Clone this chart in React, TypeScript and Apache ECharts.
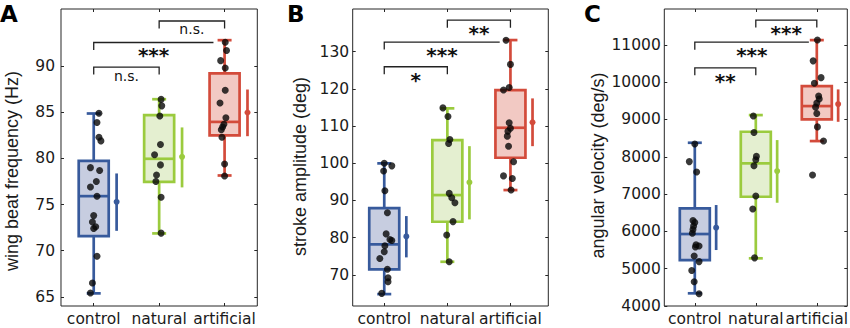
import React, { useEffect, useRef } from "react";
import * as echarts from "echarts";

const categories = ["control", "natural", "artificial"];

// ---- Panel A: wing beat frequency (Hz) ----
// box: [min, q1, median, q3, max]
const wbfBoxes = [
  [65.37, 71.58, 75.91, 79.74, 84.87],
  [71.87, 77.46, 79.96, 84.69, 86.42],
  [78.15, 82.49, 83.96, 89.21, 92.82],
];
// mean: [mean, low, high]
const wbfMeans = [
  [75.29, 72.15, 78.37],
  [80.17, 76.86, 83.36],
  [84.98, 82.41, 87.47],
];
// points: [jitter, value]
const wbfControl = [[0.08, 84.9], [0.05, 83.9], [0.08, 82.3], [0.11, 81.9], [-0.05, 79.0], [0.09, 78.7], [0.04, 77.5], [-0.05, 76.9], [0.05, 75.9], [0.0, 73.8], [-0.02, 73.1], [0.03, 72.6], [0.0, 72.4], [0.05, 69.4], [-0.02, 66.5], [-0.05, 65.4]];
const wbfNatural = [[0.03, 86.4], [0.04, 85.7], [0.01, 84.6], [0.02, 81.5], [-0.07, 80.4], [0.02, 79.3], [-0.04, 78.2], [-0.05, 77.5], [0.03, 75.8], [0.03, 71.9]];
const wbfArtificial = [[0.01, 92.6], [0.03, 91.7], [-0.06, 90.6], [0.01, 89.8], [0.01, 87.4], [-0.07, 86.0], [0.02, 84.4], [-0.01, 83.7], [-0.03, 83.4], [-0.05, 83.1], [-0.04, 82.3], [0.0, 79.4], [0.0, 78.1]];
// brackets: [from, to, level, label]
const wbfBrackets: [number, number, number, string][] = [[1, 2, 89.9, "n.s."], [1, 2.83, 92.57, "***"], [2, 3, 94.9, "n.s."]];
const wbfTicks = [65, 70, 75, 80, 85, 90];

// ---- Panel B: stroke amplitude (deg) ----
const saBoxes = [
  [64.8, 71.45, 78.18, 87.94, 99.97],
  [73.5, 84.26, 91.44, 106.24, 114.77],
  [92.79, 101.48, 109.55, 119.7, 133.14],
];
const saMeans = [
  [80.33, 74.68, 85.79],
  [94.86, 84.9, 104.6],
  [111.0, 104.6, 117.45],
];
const saControl = [[0.0, 100.0], [0.12, 99.3], [-0.01, 97.9], [0.01, 92.6], [0.05, 86.7], [0.03, 81.0], [0.09, 79.5], [0.12, 79.2], [0.01, 77.8], [0.0, 76.2], [-0.07, 74.4], [0.05, 71.5], [0.06, 69.2], [0.06, 68.1], [-0.04, 65.0]];
const saNatural = [[-0.07, 114.9], [0.01, 112.6], [0.04, 106.4], [0.02, 105.3], [0.03, 91.9], [0.07, 90.7], [0.12, 89.4], [0.09, 84.3], [-0.01, 80.7], [0.03, 73.5]];
const saArtificial = [[-0.07, 133.1], [0.0, 126.6], [-0.02, 120.4], [-0.11, 119.7], [-0.02, 110.9], [0.0, 109.4], [-0.04, 108.6], [-0.05, 107.3], [-0.03, 104.6], [0.05, 100.4], [-0.11, 96.6], [0.03, 95.9], [0.01, 92.8]];
const saBrackets: [number, number, number, string][] = [[1, 2, 125.96, "*"], [1, 2.83, 132.6, "***"], [2, 3, 138.5, "**"]];
const saTicks = [70, 80, 90, 100, 110, 120, 130];

// ---- Panel C: angular velocity (deg/s) ----
const avBoxes = [
  [4340, 5232, 5929, 6617, 8375],
  [5278, 6928, 7823, 8670, 9117],
  [8420, 9001, 9358, 9894, 11126],
];
const avMeans = [
  [6098, 5500, 6706],
  [7617, 6767, 8447],
  [9412, 8937, 9805],
];
const avControl = [[0.0, 8340], [-0.09, 7870], [0.03, 7590], [-0.03, 6290], [0.0, 6240], [-0.02, 6140], [-0.03, 6050], [-0.04, 5950], [0.02, 5640], [0.07, 5610], [0.01, 5580], [-0.01, 5340], [0.07, 5190], [-0.05, 4950], [-0.01, 4650], [0.07, 4330]];
const avNatural = [[-0.04, 9090], [-0.03, 8650], [0.01, 8010], [0.0, 7920], [-0.03, 7760], [0.0, 6950], [-0.05, 6600], [-0.02, 5290]];
const avArtificial = [[0.01, 11130], [-0.06, 10570], [0.07, 10120], [-0.04, 9970], [0.03, 9630], [0.04, 9550], [0.0, 9440], [-0.02, 9330], [0.0, 9160], [0.01, 8800], [0.11, 8420], [-0.07, 7510]];
const avBrackets: [number, number, number, string][] = [[1, 2, 10384, "**"], [1, 2.87, 11072, "***"], [2, 3, 11662, "***"]];
const avTicks = [4000, 5000, 6000, 7000, 8000, 9000, 10000, 11000];

const STROKE = ["#375a9c", "#9bcb3e", "#d34b3b"];
const FILL = ["#c7cde0", "#e4efd0", "#f2c9c3"];
const FONT = '"DejaVu Sans", sans-serif';
const LABEL_FONT = '"Liberation Sans", Arial, sans-serif';
const TEXT = "#1a1a1a";

const panels = [
  { letter: "A", letterX: 0, yLabel: "wing beat frequency (Hz)", yLabelPos: [11.5, 171], boxes: wbfBoxes, means: wbfMeans, points: [wbfControl, wbfNatural, wbfArtificial], brackets: wbfBrackets, yMin: 64, yMax: 96.2, ticks: wbfTicks, xMax: 3.5, left: 61, width: 196.3, labelMargin: 6 },
  { letter: "B", letterX: 287, yLabel: "stroke amplitude (deg)", yLabelPos: [300, 166.5], boxes: saBoxes, means: saMeans, points: [saControl, saNatural, saArtificial], brackets: saBrackets, yMin: 61.6, yMax: 141.5, ticks: saTicks, xMax: 3.6, left: 352.7, width: 195.6, labelMargin: 3.5 },
  { letter: "C", letterX: 584, yLabel: "angular velocity (deg/s)", yLabelPos: [598, 165.5], boxes: avBoxes, means: avMeans, points: [avControl, avNatural, avArtificial], brackets: avBrackets, yMin: 4000, yMax: 11960, ticks: avTicks, xMax: 3.5, left: 664.3, width: 183, labelMargin: 3.5 },
];

function buildOption() {
  const grid: any[] = [];
  const xAxis: any[] = [];
  const yAxis: any[] = [];
  const series: any[] = [];
  const graphic: any[] = [];
  const tickStyle = { color: "#262626", width: 1 };

  panels.forEach((p, i) => {
    grid.push({
      left: p.left, top: 9, width: p.width, height: 297,
      containLabel: false, outerBoundsMode: "none",
      show: true, borderColor: "#262626", borderWidth: 1, backgroundColor: "transparent",
    });
    const xBase = { gridIndex: i, type: "value", min: 0.5, max: p.xMax, splitLine: { show: false }, axisLine: { show: false } };
    xAxis.push({
      ...xBase, position: "bottom",
      axisTick: { show: true, inside: true, length: 3, customValues: [1, 2, 3], lineStyle: tickStyle },
      axisLabel: { show: true, customValues: [1, 2, 3], margin: 5, lineHeight: 16, color: TEXT, fontFamily: FONT, fontSize: 15.5, formatter: (v: number) => categories[Math.round(v) - 1] ?? "" },
    });
    xAxis.push({
      ...xBase, position: "top",
      axisTick: { show: true, inside: true, length: 3, customValues: [1, 2, 3], lineStyle: tickStyle },
      axisLabel: { show: false },
    });
    const yBase = { gridIndex: i, type: "value", min: p.yMin, max: p.yMax, splitLine: { show: false }, axisLine: { show: false } };
    yAxis.push({
      ...yBase, position: "left",
      axisTick: { show: true, inside: true, length: 3, customValues: p.ticks, lineStyle: tickStyle },
      axisLabel: { show: true, customValues: p.ticks, margin: p.labelMargin, color: TEXT, fontFamily: FONT, fontSize: 15.5, formatter: (v: number) => String(v) },
    });
    yAxis.push({
      ...yBase, position: "right",
      axisTick: { show: true, inside: true, length: 3, customValues: p.ticks, lineStyle: tickStyle },
      axisLabel: { show: false },
    });
    const xi = 2 * i, yi = 2 * i;

    // boxes
    series.push({
      type: "custom", xAxisIndex: xi, yAxisIndex: yi, z: 2, silent: true,
      data: p.boxes.map((b, k) => [k + 1, ...b]),
      encode: { x: 0, y: [1, 2, 3, 4, 5] },
      renderItem: (params: any, api: any) => {
        const k = params.dataIndex;
        const cx = api.value(0);
        const pMin = api.coord([cx, api.value(1)]);
        const pQ1 = api.coord([cx, api.value(2)]);
        const pMed = api.coord([cx, api.value(3)]);
        const pQ3 = api.coord([cx, api.value(4)]);
        const pMax = api.coord([cx, api.value(5)]);
        const c = pMed[0];
        const hw = 15, cw = 7;
        const ls = { stroke: STROKE[k], lineWidth: 2.7 };
        return {
          type: "group",
          children: [
            { type: "line", shape: { x1: c, y1: pQ3[1], x2: c, y2: pMax[1] }, style: ls },
            { type: "line", shape: { x1: c, y1: pQ1[1], x2: c, y2: pMin[1] }, style: ls },
            { type: "line", shape: { x1: c - cw, y1: pMax[1], x2: c + cw, y2: pMax[1] }, style: ls },
            { type: "line", shape: { x1: c - cw, y1: pMin[1], x2: c + cw, y2: pMin[1] }, style: ls },
            { type: "rect", shape: { x: c - hw, y: pQ3[1], width: 2 * hw, height: pQ1[1] - pQ3[1] }, style: { fill: FILL[k], stroke: STROKE[k], lineWidth: 2.7 } },
            { type: "line", shape: { x1: c - hw, y1: pMed[1], x2: c + hw, y2: pMed[1] }, style: ls },
          ],
        };
      },
    });

    // mean ± error
    series.push({
      type: "custom", xAxisIndex: xi, yAxisIndex: yi, z: 2, silent: true,
      data: p.means.map((m, k) => [k + 1.35, ...m]),
      encode: { x: 0, y: [1, 2, 3] },
      renderItem: (params: any, api: any) => {
        const k = params.dataIndex;
        const x = api.value(0);
        const pm = api.coord([x, api.value(1)]);
        const plo = api.coord([x, api.value(2)]);
        const phi = api.coord([x, api.value(3)]);
        return {
          type: "group",
          children: [
            { type: "line", shape: { x1: pm[0], y1: plo[1], x2: pm[0], y2: phi[1] }, style: { stroke: STROKE[k], lineWidth: 2.7 } },
            { type: "circle", shape: { cx: pm[0], cy: pm[1], r: 3 }, style: { fill: STROKE[k] } },
          ],
        };
      },
    });

    // individual points
    series.push({
      type: "scatter", xAxisIndex: xi, yAxisIndex: yi, z: 3, silent: true,
      symbolSize: 7,
      itemStyle: { color: "#080808" },
      data: p.points.flatMap((arr, k) => arr.map(([dx, v]) => [k + 1 + dx, v])),
    });

    // significance brackets
    const br = p.brackets;
    series.push({
      type: "custom", xAxisIndex: xi, yAxisIndex: yi, z: 4, silent: true,
      data: br.map((b) => [b[0], b[1], b[2]]),
      encode: { x: [0, 1], y: 2 },
      renderItem: (params: any, api: any) => {
        const label = br[params.dataIndex][3];
        const x1 = api.value(0), x2 = api.value(1), y = api.value(2);
        const p1 = api.coord([x1, y]);
        const p2 = api.coord([x2, y]);
        const leg = 7.5;
        const pts: number[][] = [];
        if (Number.isInteger(x1)) pts.push([p1[0], p1[1] + leg]);
        pts.push([p1[0], p1[1]]);
        pts.push([p2[0], p2[1]]);
        if (Number.isInteger(x2)) pts.push([p2[0], p2[1] + leg]);
        const star = label.includes("*");
        return {
          type: "group",
          children: [
            { type: "polyline", shape: { points: pts }, style: { stroke: "#222", lineWidth: 1.3, fill: null } },
            {
              type: "text", x: (p1[0] + p2[0]) / 2, y: p1[1] + (star ? 13 : 8.5),
              style: { text: label, fill: "#111", font: star ? `bold 20px ${FONT}` : `14px ${FONT}`, align: "center", verticalAlign: "middle" },
            },
          ],
        };
      },
    });

    graphic.push({
      type: "text", x: p.yLabelPos[0], y: p.yLabelPos[1], rotation: Math.PI / 2,
      style: { text: p.yLabel, font: `18px ${LABEL_FONT}`, fill: TEXT, align: "center", verticalAlign: "middle" },
    });
    graphic.push({
      type: "text", x: p.letterX, y: 2.5,
      style: { text: p.letter, font: `bold 23px ${FONT}`, fill: "#000", align: "left", verticalAlign: "top" },
    });
  });

  return { animation: false, backgroundColor: "#ffffff", grid, xAxis, yAxis, series, graphic };
}

export default function App() {
  const ref = useRef<HTMLDivElement>(null);
  useEffect(() => {
    if (!ref.current) return;
    const chart = echarts.init(ref.current, undefined, { renderer: "svg" });
    chart.setOption(buildOption() as any);
    return () => chart.dispose();
  }, []);
  return <div ref={ref} style={{ position: "fixed", left: 0, top: 0, width: 850, height: 328 }} />;
}
